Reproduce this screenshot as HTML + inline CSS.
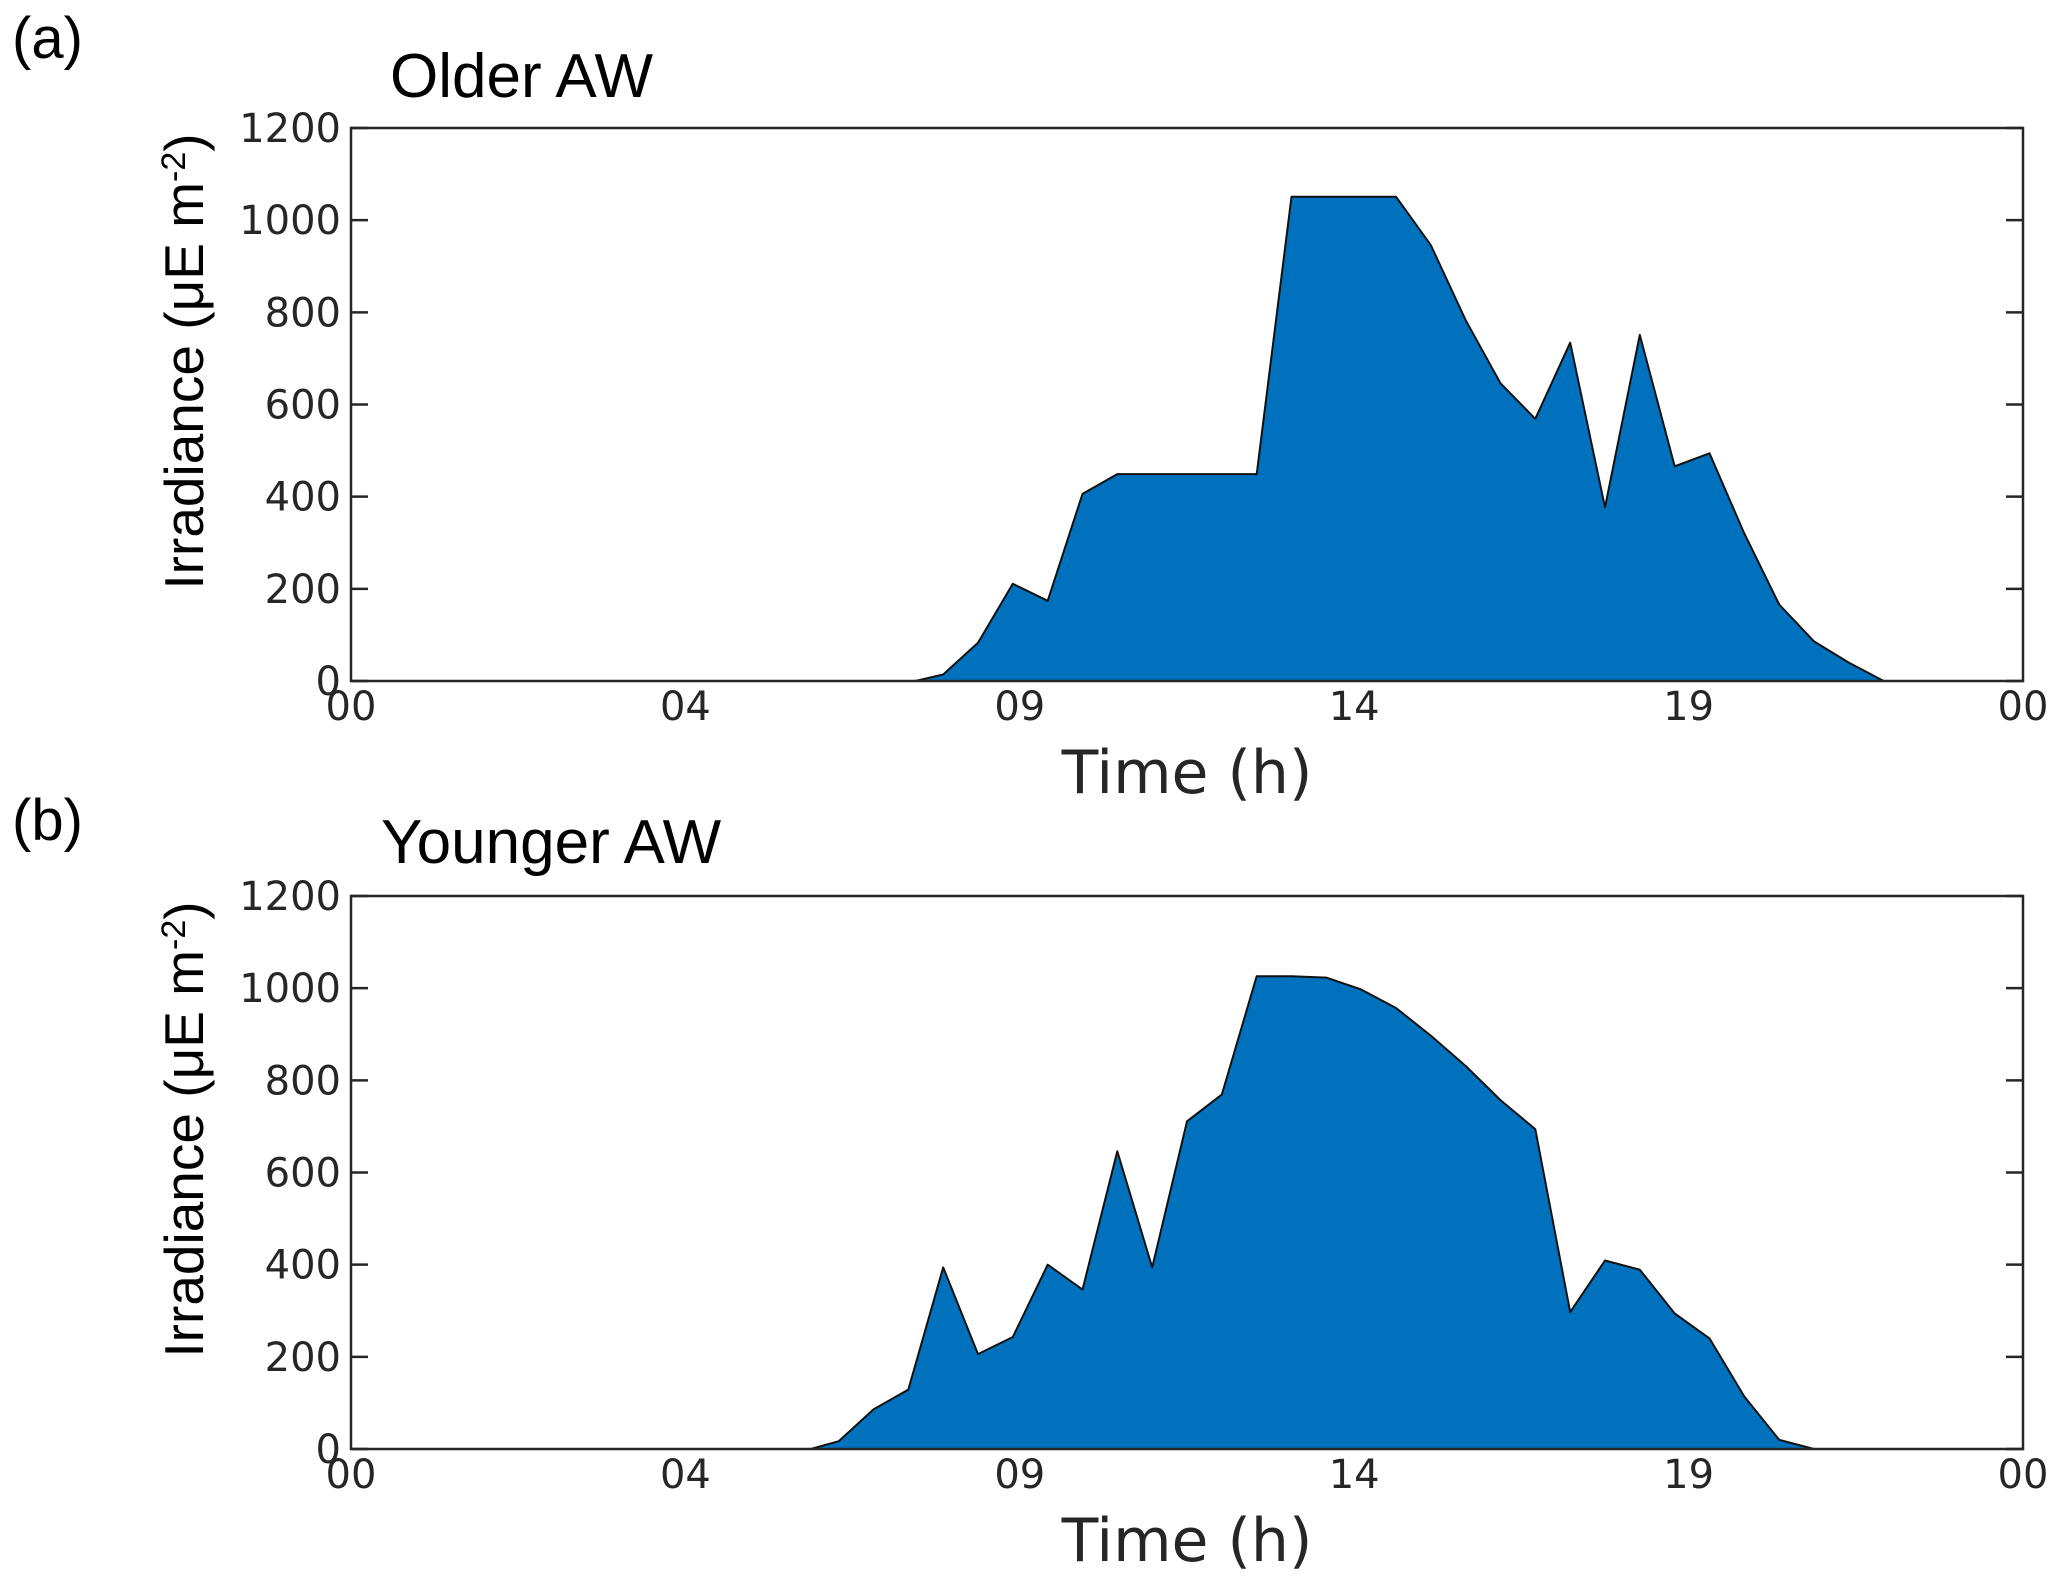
<!DOCTYPE html>
<html><head><meta charset="utf-8">
<style>
html,body{margin:0;padding:0;background:#fff;}
svg{display:block;font-family:"Liberation Sans","DejaVu Sans",sans-serif;}
</style></head>
<body>
<svg id="fig" width="2067" height="1585" viewBox="0 0 2067 1585" xmlns="http://www.w3.org/2000/svg"></svg>
<script>
// Shared axis data
const yTicks = [0, 200, 400, 600, 800, 1000, 1200];
const xTickHours = [0, 4.8, 9.6, 14.4, 19.2, 24];
const xTickLabels = ["00", "04", "09", "14", "19", "00"];

// Panel (a) Older AW
const olderHours = [0, 8.1, 8.5, 9.0, 9.5, 10.0, 10.5, 11.0, 11.5, 12.0, 12.5, 13.0, 13.5, 14.0, 14.5, 15.0, 15.5, 16.0, 16.5, 17.0, 17.5, 18.0, 18.5, 19.0, 19.5, 20.0, 20.5, 21.0, 21.5, 22.0, 24];
const olderValues = [0, 0, 14, 83, 211, 174, 406, 449, 449, 449, 449, 449, 1051, 1051, 1051, 1051, 946, 783, 646, 569, 734, 377, 751, 466, 494, 320, 166, 86, 40, 0, 0];

// Panel (b) Younger AW
const youngerHours = [0, 6.6, 7.0, 7.5, 8.0, 8.5, 9.0, 9.5, 10.0, 10.5, 11.0, 11.5, 12.0, 12.5, 13.0, 13.5, 14.0, 14.5, 15.0, 15.5, 16.0, 16.5, 17.0, 17.5, 18.0, 18.5, 19.0, 19.5, 20.0, 20.5, 21.0, 24];
const youngerValues = [0, 0, 17, 86, 129, 394, 206, 243, 400, 346, 646, 394, 711, 769, 1026, 1026, 1023, 997, 957, 897, 831, 757, 694, 297, 409, 389, 294, 240, 114, 20, 0, 0];

const NS = "http://www.w3.org/2000/svg";
const svg = document.getElementById("fig");
function mk(tag, attrs, parent) {
  const e = document.createElementNS(NS, tag);
  for (const k in attrs) e.setAttribute(k, attrs[k]);
  (parent || svg).appendChild(e);
  return e;
}

function panel(opts) {
  const L = 351, R = 2023, T = opts.top, B = opts.bottom;
  const xs = h => L + (h / 24) * (R - L);
  const ys = v => B - (v / 1200) * (B - T);
  const g = mk("g", {});
  
  

  const pl = mk("text", {x: 12, y: opts.labelY, "font-size": 58, fill: "#000"}, g);
  pl.textContent = opts.letter;
  
  

  const tt = mk("text", {x: opts.titleX, y: opts.titleY, "font-size": 62, fill: "#000"}, g);
  tt.textContent = opts.title;
  
  

  let d = "";
  opts.hours.forEach((h, i) => { d += (i ? "L" : "M") + xs(h).toFixed(1) + "," + ys(opts.values[i]).toFixed(1); });
  d += "Z";
  const area = mk("path", {d: d, fill: "#0071BC", stroke: "#111", "stroke-width": 2, "stroke-linejoin": "round"}, g);
  
  

  const box = mk("rect", {x: L, y: T, width: R - L, height: B - T, fill: "none", stroke: "#262626", "stroke-width": 2.5}, g);
  
  

  yTicks.forEach(v => {
    const y = ys(v);
    mk("line", {x1: L, x2: L + 17, y1: y, y2: y, stroke: "#262626", "stroke-width": 2.5}, g);
    mk("line", {x1: R, x2: R - 17, y1: y, y2: y, stroke: "#262626", "stroke-width": 2.5}, g);
    const t = mk("text", {x: L - 10, y: y + 14, "font-size": 40, fill: "#262626", "text-anchor": "end", "font-family": "DejaVu Sans, sans-serif"}, g);
    t.textContent = v;
    
    
  });
  xTickHours.forEach((h, i) => {
    const x = xs(h);
    const t = mk("text", {x: x, y: B + 39, "font-size": 40, fill: "#262626", "text-anchor": "middle", "font-family": "DejaVu Sans, sans-serif"}, g);
    t.textContent = xTickLabels[i];
    
    
  });

  const yl = mk("text", {x: 0, y: 0, "font-size": 55, fill: "#000", "text-anchor": "middle", transform: "translate(203," + ((T + B) / 2 - 43) + ") rotate(-90)"}, g);
  
  
  yl.innerHTML = 'Irradiance (μE m<tspan dy="-18" font-size="34">-2</tspan><tspan dy="18">)</tspan>';

  const xl = mk("text", {x: 1187, y: B + 112, "font-size": 60, fill: "#262626", "text-anchor": "middle", "font-family": "DejaVu Sans, sans-serif"}, g);
  xl.textContent = "Time (h)";
  
  
}

panel({name: "panel-a-older-aw", letter: "(a)", title: "Older AW", top: 128, bottom: 681, labelY: 58, titleX: 390, titleY: 97, hours: olderHours, values: olderValues});
panel({name: "panel-b-younger-aw", letter: "(b)", title: "Younger AW", top: 896, bottom: 1449, labelY: 840, titleX: 381, titleY: 863, hours: youngerHours, values: youngerValues});
</script>
</body></html>
